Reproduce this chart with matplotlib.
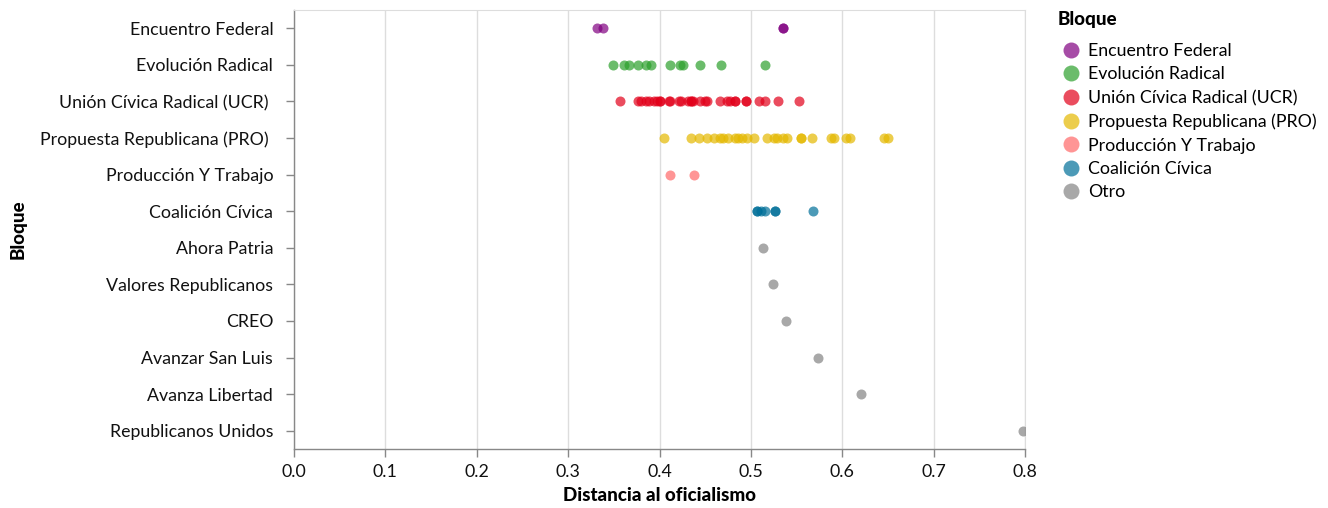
import matplotlib
matplotlib.use("Agg")
import matplotlib.pyplot as plt
from matplotlib.lines import Line2D

plt.rcParams['font.family'] = ['Lato', 'DejaVu Sans']

# filas del eje y (orden de arriba hacia abajo)
bloques = ["Encuentro Federal", "Evolución Radical", "Unión Cívica Radical (UCR) ",
           "Propuesta Republicana (PRO) ", "Producción Y Trabajo", "Coalición Cívica",
           "Ahora Patria", "Valores Republicanos", "CREO", "Avanzar San Luis",
           "Avanza Libertad", "Republicanos Unidos"]

# distancia al oficialismo de cada legislador, por bloque
encuentro_federal = [0.332, 0.338, 0.535, 0.535]
evolucion_radical = [0.349, 0.361, 0.367, 0.377, 0.385, 0.391, 0.411, 0.422, 0.426,
                     0.444, 0.467, 0.515]
ucr = [0.357, 0.376, 0.380, 0.385, 0.389, 0.394, 0.397, 0.400, 0.400, 0.410, 0.412,
       0.421, 0.424, 0.431, 0.434, 0.434, 0.437, 0.444, 0.450, 0.452, 0.466, 0.474,
       0.477, 0.483, 0.483, 0.495, 0.495, 0.509, 0.515, 0.530, 0.553]
pro = [0.405, 0.434, 0.443, 0.452, 0.460, 0.466, 0.470, 0.475, 0.483, 0.486, 0.490,
       0.496, 0.503, 0.518, 0.525, 0.529, 0.535, 0.540, 0.555, 0.555, 0.567, 0.588,
       0.591, 0.604, 0.608, 0.646, 0.650]
produccion_trabajo = [0.412, 0.438]
coalicion_civica = [0.507, 0.507, 0.511, 0.516, 0.526, 0.526, 0.568]
ahora_patria = [0.513]
valores_republicanos = [0.524]
creo = [0.538]
avanzar_san_luis = [0.574]
avanza_libertad = [0.621]
republicanos_unidos = [0.798]

valores = [encuentro_federal, evolucion_radical, ucr, pro, produccion_trabajo,
           coalicion_civica, ahora_patria, valores_republicanos, creo,
           avanzar_san_luis, avanza_libertad, republicanos_unidos]

# grupo de color (leyenda)
grupos = ["Encuentro Federal", "Evolución Radical", "Unión Cívica Radical (UCR)",
          "Propuesta Republicana (PRO)", "Producción Y Trabajo", "Coalición Cívica", "Otro"]
colores = ["#800080", "#2ca02c", "#e2001a", "#e4b800", "#ff6868", "#006f99", "#838383"]
grupo_fila = [0, 1, 2, 3, 4, 5, 6, 6, 6, 6, 6, 6]

fig = plt.figure(figsize=(13.28, 5.08), dpi=100)
ax = fig.add_axes([294 / 1328, 1 - 449 / 508, 731 / 1328, 439 / 508])

for i, (vals, g) in enumerate(zip(valores, grupo_fila)):
    ax.scatter(vals, [i] * len(vals), s=52, color=colores[g], alpha=0.7,
               linewidths=0, zorder=3)

ax.set_xlim(0, 0.8)
ax.set_ylim(len(bloques) - 0.5, -0.5)
ax.set_xticks([0.0, 0.1, 0.2, 0.3, 0.4, 0.5, 0.6, 0.7, 0.8])
ax.set_xticklabels(["0.0", "0.1", "0.2", "0.3", "0.4", "0.5", "0.6", "0.7", "0.8"])
ax.set_yticks(range(len(bloques)))
ax.set_yticklabels(bloques)
ax.grid(axis='x', color='#dddddd', linewidth=1, zorder=0)
ax.set_axisbelow(True)

for s in ['top', 'right']:
    ax.spines[s].set_color('#dddddd')
for s in ['left', 'bottom']:
    ax.spines[s].set_color('#888888')
    ax.spines[s].set_linewidth(1)
ax.tick_params(axis='both', color='#888888', length=6, width=1, labelsize=12.8,
               labelcolor='#111111')
ax.tick_params(axis='x', pad=5)
ax.tick_params(axis='y', pad=9)

ax.set_xlabel("Distancia al oficialismo", fontsize=13.5, fontweight='black', labelpad=5)
ax.set_ylabel("Bloque", fontsize=13.5, fontweight='black')
ax.yaxis.set_label_coords(-267 / 731, 0.5)

# leyenda: titulo aparte para controlar el espacio
fig.text(1058 / 1328, 1 - 20 / 508, "Bloque", fontsize=13.5, fontweight='black',
         ha='left', va='center')
handles = [Line2D([], [], marker='o', linestyle='', markersize=11.5, color=c, alpha=0.7,
                  markeredgewidth=0) for c in colores]
leg = fig.legend(handles, grupos, loc='upper left',
                 bbox_to_anchor=(1044 / 1328, 1 - 27 / 508), frameon=False,
                 fontsize=12.8, handletextpad=0.4, labelspacing=0.42, borderpad=0.4,
                 handlelength=1.2)

fig.savefig("out.png", dpi=100)
